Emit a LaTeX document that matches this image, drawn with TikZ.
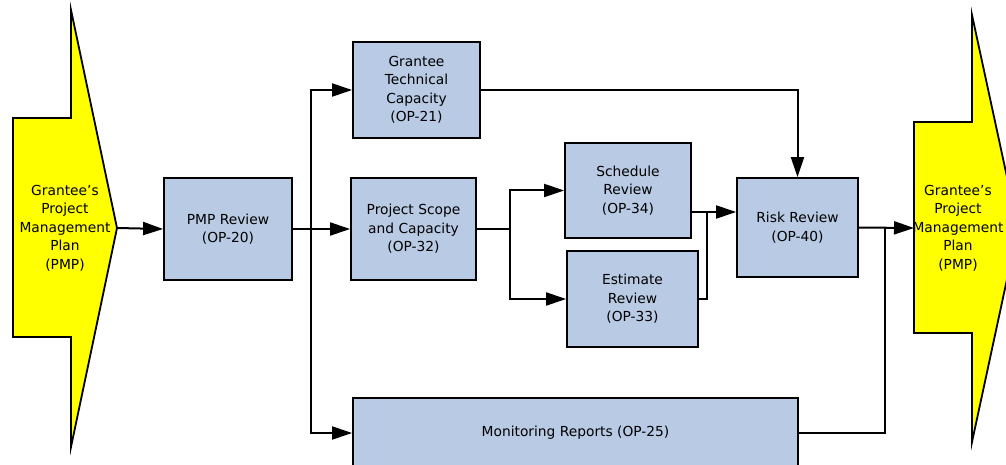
\documentclass[tikz,border=0pt]{standalone}
\usepackage{fontspec}
\setmainfont{DejaVu Sans}
\usetikzlibrary{arrows.meta}
\definecolor{boxblue}{RGB}{185,202,228}
\definecolor{planyellow}{RGB}{255,255,0}
\tikzset{
  box/.style={draw=black, line width=1.8pt, fill=boxblue, align=center,
    inner sep=2pt, font=\fontsize{13.8}{18.5}\selectfont},
  plantext/.style={align=center, font=\fontsize{13.8}{18.5}\selectfont},
  planshape/.style={draw=black, line width=1.8pt, fill=planyellow, line join=miter},
  flow/.style={draw=black, line width=2pt},
  flowarrow/.style={flow, -{Triangle[length=20pt,width=13pt]}},
}
\begin{document}
\begin{tikzpicture}[x=1pt, y=-1pt]
\useasboundingbox (0,0) rectangle (1006,465);
\clip (0,0) rectangle (1006,465);

% incoming plan (left) and outgoing plan (right)
\draw[planshape] (13,118) -- (71,118) -- (71,10) -- (117,228) -- (71,447)
  -- (71,337) -- (13,337) -- cycle;
\coordinate (lt) at (117,228);
\node[plantext] (lplan) at (65,228) {Grantee’s\\Project\\Management\\Plan\\(PMP)};

\draw[planshape] (914,122) -- (972,122) -- (972,15) -- (1018,228) -- (972,442)
  -- (972,333) -- (914,333) -- cycle;
\coordinate (rt) at (914,228);
\node[plantext] (rplan) at (958,228) {Grantee’s\\Project\\Management\\Plan\\(PMP)};

% review steps
\node[box, minimum width=128pt, minimum height=102pt] (pmp) at (228,229) {PMP Review\\(OP-20)};
\node[box, minimum width=127pt, minimum height=96pt] (gtc) at (416.5,90) {Grantee\\Technical\\Capacity\\(OP-21)};
\node[box, minimum width=125pt, minimum height=102pt] (psc) at (413.5,229) {Project Scope\\and Capacity\\(OP-32)};
\node[box, minimum width=126pt, minimum height=95pt] (sch) at (628,190.5) {Schedule\\Review\\(OP-34)};
\node[box, minimum width=131pt, minimum height=96pt] (est) at (632.5,299) {Estimate\\Review\\(OP-33)};
\node[box, minimum width=121pt, minimum height=99pt] (risk) at (797.5,227.5) {Risk Review\\(OP-40)};
\node[box, minimum width=445pt, minimum height=70pt] (mon) at (575.5,433) {Monitoring Reports (OP-25)};

% junction points
\coordinate (j1) at (311,229);
\coordinate (j2) at (510,229);
\coordinate (j3) at (707,212);
\coordinate (j4) at (885,228);

% connectors
\draw[flowarrow] (lt) -- (pmp.west);
\draw[flowarrow] (pmp.east) -- (psc.west);
\draw[flowarrow] (j1) |- (gtc.west);
\draw[flowarrow] (j1) |- (mon.west);
\draw[flow] (psc.east) -- (j2);
\draw[flowarrow] (j2) |- (sch.west);
\draw[flowarrow] (j2) |- (est.west);
\draw[flowarrow] (sch.east |- j3) -- (risk.west |- j3);
\draw[flow] (est.east) -| (j3);
\draw[flowarrow] (gtc.east) -| (risk.north);
\draw[flowarrow] (risk.east) -- (rt);
\draw[flow] (mon.east) -| (j4);
\end{tikzpicture}
\end{document}
